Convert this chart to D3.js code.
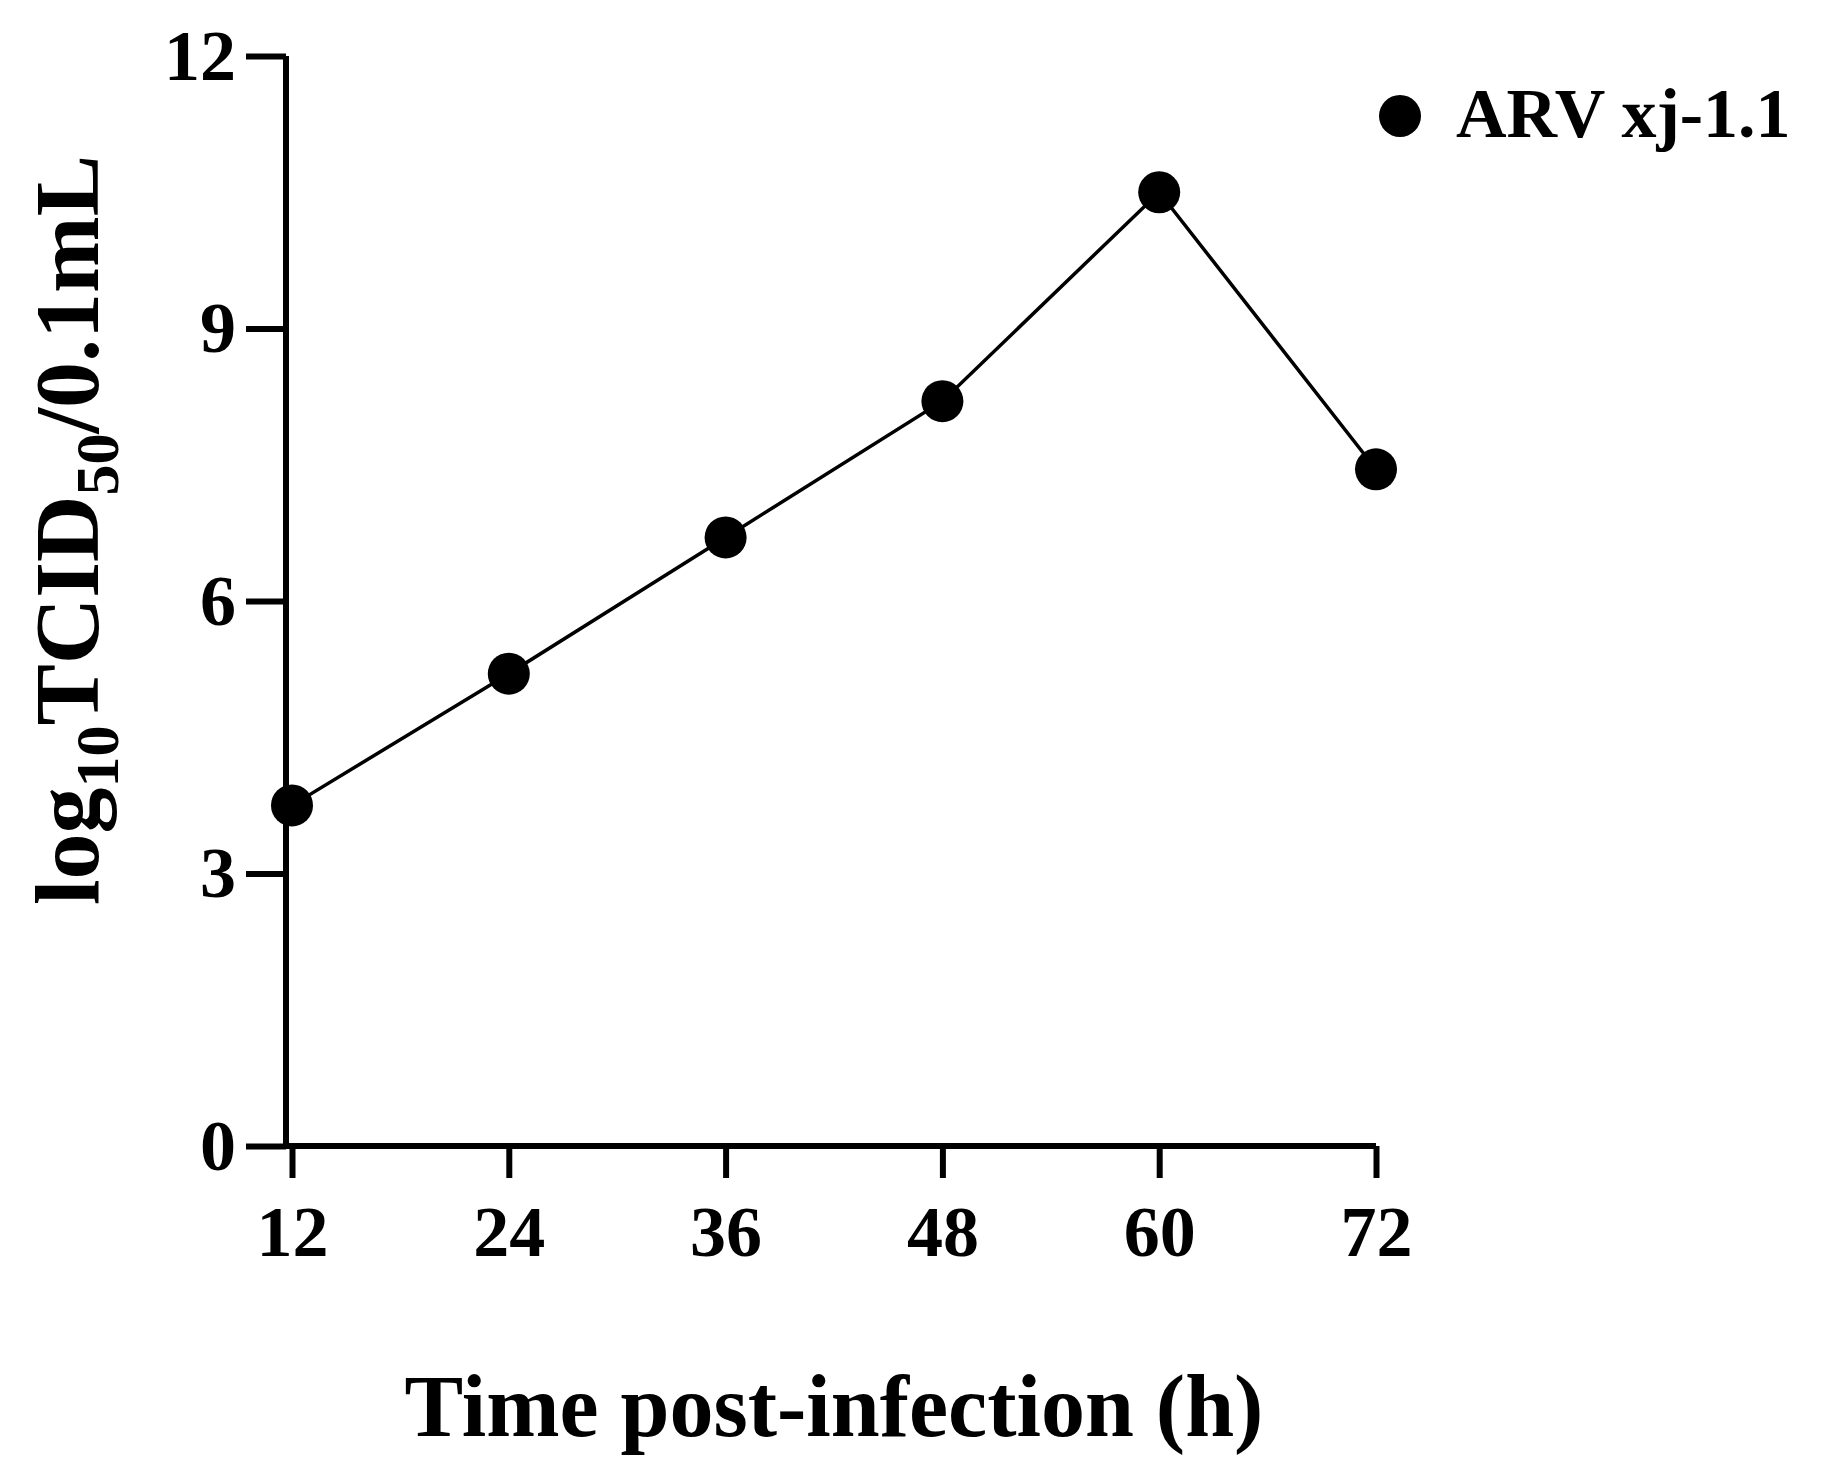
<!DOCTYPE html>
<html><head><meta charset="utf-8">
<script src="https://cdn.jsdelivr.net/npm/d3@7"></script>
<style>body{margin:0;background:#fff}</style>
</head><body>
<svg id="chart" width="1829" height="1474"></svg>
<script>
// data
const hours = [12, 24, 36, 48, 60, 72];
const titers = [3.75, 5.2, 6.7, 8.2, 10.5, 7.45];
const yTicks = [0, 3, 6, 9, 12];
const seriesName = "ARV xj-1.1";

const svg = d3.select("#chart");
const font = "'Liberation Serif', 'Times New Roman', serif";

const x = d3.scaleLinear().domain([12, 72]).range([292, 1376]);
const y = d3.scaleLinear().domain([0, 12]).range([1146, 56]);
const axisX = 286;

// y axis
const yAxis = svg.append("g").attr("transform", `translate(${axisX},0)`)
    .call(d3.axisLeft(y).tickValues(yTicks).tickSize(40).tickPadding(10));
// x axis
const xAxis = svg.append("g").attr("transform", `translate(0,${y(0)})`)
    .call(d3.axisBottom(x).tickValues(hours).tickSize(32).tickPadding(24));

[yAxis, xAxis].forEach(g => {
    g.select(".domain").attr("stroke-width", 6).attr("stroke", "#000");
    g.selectAll(".tick line").attr("stroke-width", 6).attr("stroke", "#000");
    g.selectAll("text").attr("font-family", font).attr("font-weight", "bold")
        .attr("font-size", 72).attr("fill", "#000");
});
xAxis.select(".domain").attr("d", `M${axisX},0H${x(72)}`);
yAxis.select(".domain").attr("d", `M0,${y(12)}V${y(0)}`);
xAxis.selectAll("text").attr("dy", "0.75em");

// line + points
const pts = hours.map((h, i) => [h, titers[i]]);
svg.append("path").datum(pts)
    .attr("fill", "none").attr("stroke", "#000").attr("stroke-width", 3.5)
    .attr("d", d3.line().x(d => x(d[0])).y(d => y(d[1])));
svg.selectAll(".pt").data(pts).enter().append("circle")
    .attr("class", "pt").attr("cx", d => x(d[0])).attr("cy", d => y(d[1]))
    .attr("r", 21).attr("fill", "#000");

// axis titles
svg.append("text").attr("x", 834).attr("y", 1436).attr("text-anchor", "middle")
    .attr("font-family", font).attr("font-weight", "bold").attr("font-size", 88)
    .text("Time post-infection (h)");

const yt = svg.append("text").attr("transform", "translate(98,530) rotate(-90)")
    .attr("text-anchor", "middle").attr("font-family", font)
    .attr("font-weight", "bold").attr("font-size", 92);
yt.append("tspan").text("log");
yt.append("tspan").attr("font-size", 62).attr("dy", 20).text("10");
yt.append("tspan").attr("dy", -20).text("TCID");
yt.append("tspan").attr("font-size", 62).attr("dy", 20).text("50");
yt.append("tspan").attr("dy", -20).text("/0.1mL");

// legend
svg.append("circle").attr("cx", 1400).attr("cy", 116).attr("r", 21).attr("fill", "#000");
svg.append("text").attr("x", 1456).attr("y", 137)
    .attr("font-family", font).attr("font-weight", "bold").attr("font-size", 70)
    .text(seriesName);
</script>
</body></html>
